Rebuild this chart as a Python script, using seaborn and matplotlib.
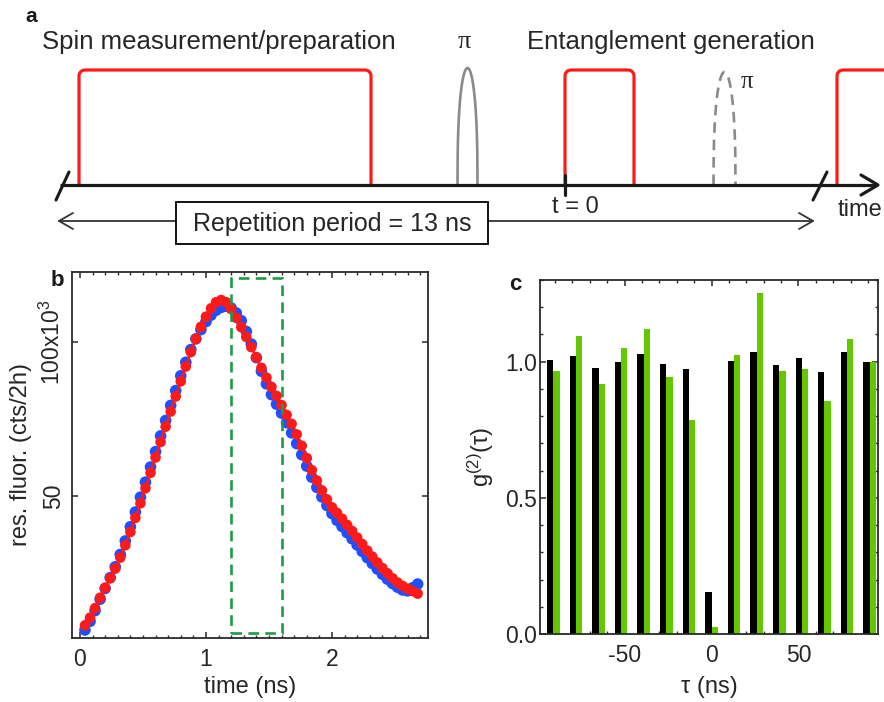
import numpy as np
import pandas as pd
import matplotlib
matplotlib.use("Agg")
import matplotlib.pyplot as plt
from matplotlib.patches import Rectangle
from matplotlib.ticker import MultipleLocator, FixedLocator
import seaborn as sns

sns.set_theme(style="ticks")
plt.rcParams["font.family"] = ["Liberation Sans", "DejaVu Sans"]
plt.rcParams["mathtext.fontset"] = "custom"
plt.rcParams["mathtext.rm"] = "Liberation Sans"
plt.rcParams["mathtext.it"] = "Liberation Sans:italic"
plt.rcParams["mathtext.default"] = "regular"
plt.rcParams["axes.unicode_minus"] = False

# ---------------- data ----------------
# b: resonance fluorescence, counts per 2 h (x10^3), sampled every 0.04 ns from 0.04 ns
t_first_ns = 0.04
t_step_ns = 0.04
fluor_blue = [6.5, 9.3, 12.8, 16.5, 20.0, 23.5, 27.0, 31.0, 35.4, 40.0,
              44.8, 49.6, 54.5, 59.4, 64.4, 69.5, 74.5, 79.4, 84.2, 89.0,
              93.4, 97.5, 101.0, 104.0, 106.6, 108.7, 110.3, 111.2, 111.6, 111.0,
              109.4, 106.9, 103.4, 99.3, 94.9, 90.5, 86.4, 82.9, 79.8, 76.9,
              73.8, 70.5, 67.0, 63.4, 59.7, 56.1, 52.8, 49.7, 46.9, 44.3,
              42.1, 40.1, 38.1, 36.1, 34.1, 32.0, 30.0, 28.1, 26.3, 24.6,
              23.0, 21.6, 20.4, 19.5, 19.2, 20.2, 21.4]
fluor_red = [8.0, 10.5, 13.6, 17.0, 20.2, 23.3, 26.4, 30.0, 34.0, 38.3,
             42.9, 47.6, 52.5, 57.5, 62.5, 67.5, 72.5, 77.4, 82.3, 87.2,
             92.0, 96.7, 101.0, 104.9, 108.2, 110.9, 112.9, 113.6, 112.9, 110.7,
             107.8, 104.8, 101.6, 98.3, 95.0, 91.6, 88.4, 85.4, 82.5, 79.5,
             76.3, 73.4, 70.0, 66.3, 62.3, 58.4, 55.0, 51.8, 48.9, 46.3,
             44.5, 42.6, 40.6, 38.6, 36.5, 34.4, 32.3, 30.3, 28.4, 26.6,
             24.9, 23.3, 21.9, 20.8, 19.9, 19.1, 18.3]
window_ns = [1.2, 1.6]          # detection window
window_counts = [5.5, 120.8]

# c: photon correlation g2(tau) at multiples of the 13 ns period
tau_ns = [-91, -78, -65, -52, -39, -26, -13, 0, 13, 26, 39, 52, 65, 78, 91]
g2_first = [1.006, 1.021, 0.978, 1.000, 1.029, 0.990, 0.973, 0.153,
            1.004, 1.036, 0.988, 1.015, 0.962, 1.034, 0.998]
g2_second = [0.966, 1.094, 0.917, 1.049, 1.120, 0.942, 0.785, 0.025,
             1.023, 1.252, 0.966, 0.975, 0.856, 1.083, 1.000]

time_ns = np.round(t_first_ns + t_step_ns * np.arange(len(fluor_red)), 3)

RED = "#ff1a1a"
BLUE = "#1f4fff"
GREEN_BAR = "#62c800"
GREEN_BOX = "#1e9a48"
GRAY = "#8a8a8a"
TXT = "#262626"

fig = plt.figure(figsize=(8.84, 7.02), dpi=100)


# ---------------- a: pulse sequence ----------------
def gate(ax, x0, x1, top, base, r=6, **kw):
    th = np.linspace(0, np.pi / 2, 12)
    xs = [x0]
    ys = [base]
    xs += list(x0 + r - r * np.cos(th))
    ys += list(top + r - r * np.sin(th))
    xs += list(x1 - r + r * np.sin(th))
    ys += list(top + r - r * np.cos(th))
    xs.append(x1)
    ys.append(base)
    ax.plot(xs, ys, **kw)


def pi_pulse(ax, c, w, top, base, **kw):
    u = np.linspace(-1, 1, 121)
    ax.plot(c + w * u, base - (base - top) * (1 - u ** 2) ** 0.4, **kw)


axa = fig.add_axes([0, 1 - 260 / 702, 1, 260 / 702])
axa.set_xlim(0, 884)
axa.set_ylim(260, 0)
axa.axis("off")
base = 185
for x0, x1 in [(79, 371), (565, 634), (837, 930)]:
    gate(axa, x0, x1, 70, base, color=RED, lw=2.3, solid_capstyle="butt")
pi_pulse(axa, 467.5, 10, 68, base, color=GRAY, lw=1.9)
pi_pulse(axa, 724.5, 11, 72, base, color=GRAY, lw=1.9, ls=(0, (4, 2.6)))

axa.plot([60, 877], [base, base], color="k", lw=2.3, solid_capstyle="butt")
axa.plot([861, 878, 861], [175, base, 195], color="k", lw=2.3)
axa.plot([56, 69], [200, 172], color="k", lw=2.2)
axa.plot([813, 827], [200, 172], color="k", lw=2.2)
axa.plot([565, 565], [175, 195], color="k", lw=2.3)

axa.plot([59, 813], [221, 221], color="#333333", lw=1.3)
axa.plot([73, 59, 73], [213, 221, 229], color="#333333", lw=1.3)
axa.plot([799, 813, 799], [213, 221, 229], color="#333333", lw=1.3)
axa.add_patch(Rectangle((176, 202), 312, 42, fc="white", ec="black", lw=1.3, zorder=3))
axa.text(332, 224, "Repetition period = 13 ns", ha="center", va="center",
         fontsize=18, color=TXT, zorder=4)

axa.text(42, 49, "Spin measurement/preparation", ha="left", va="baseline",
         fontsize=18.5, color=TXT)
axa.text(527, 49, "Entanglement generation", ha="left", va="baseline",
         fontsize=18.5, color=TXT)
axa.text(464, 48, "π", ha="center", va="baseline", fontsize=19, color=TXT,
         family=["Liberation Serif", "DejaVu Serif"])
axa.text(741, 88, "π", ha="left", va="baseline", fontsize=18, color=TXT,
         family=["Liberation Serif", "DejaVu Serif"])
axa.text(575, 207, "t = 0", ha="center", va="center", fontsize=17, color=TXT)
axa.text(838, 210, "time", ha="left", va="center", fontsize=17, color=TXT)
axa.text(31, 16, "a", ha="center", va="center", fontsize=15, fontweight="bold", color="k")


def style_axes(ax):
    for s in ax.spines.values():
        s.set_color("#2a2a2a")
        s.set_linewidth(1.3)
    ax.tick_params(which="both", direction="in", top=True, right=True,
                   color="#2a2a2a", labelcolor=TXT, labelsize=16.5)
    ax.tick_params(which="major", length=4.5, width=1.1)
    ax.tick_params(which="minor", length=2.5, width=1.0)


# ---------------- b: fluorescence vs time ----------------
axb = fig.add_axes([72 / 884, 64 / 702, 356 / 884, 366 / 702])
sns.scatterplot(x=time_ns, y=fluor_blue, color=BLUE, s=70, edgecolor="none",
                linewidth=0, ax=axb, zorder=2)
sns.lineplot(x=time_ns, y=fluor_red, color=RED, lw=1.8, ax=axb, zorder=3)
sns.scatterplot(x=time_ns, y=fluor_red, color=RED, s=58, edgecolor="none",
                linewidth=0, ax=axb, zorder=4)
axb.add_patch(Rectangle((window_ns[0], window_counts[0]), window_ns[1] - window_ns[0],
                        window_counts[1] - window_counts[0], fill=False, ec=GREEN_BOX,
                        lw=1.9, ls=(0, (4, 2.4)), zorder=5))
axb.set_xlim(-0.063, 2.762)
axb.set_ylim(3.9, 122.7)
axb.xaxis.set_major_locator(FixedLocator([0, 1, 2]))
axb.xaxis.set_minor_locator(MultipleLocator(0.1))
axb.yaxis.set_major_locator(FixedLocator([50, 100]))
axb.set_yticklabels(["50", "100x10$^{3}$"])
style_axes(axb)
axb.tick_params(axis="y", labelrotation=90, pad=5)
axb.tick_params(axis="x", pad=7)
for lbl in axb.get_yticklabels():
    lbl.set_va("center")
axb.set_xlabel("time (ns)", fontsize=17, color=TXT)
axb.set_ylabel("res. fluor. (cts/2h)", fontsize=17, color=TXT)
axb.xaxis.set_label_coords(0.5, -0.105)
axb.yaxis.set_label_coords(-0.112, 0.5)
fig.text(57 / 884, 1 - 281 / 702, "b", ha="center", va="center", fontsize=16,
         fontweight="bold", color="#1a1a1a")

# ---------------- c: g2 histogram ----------------
axc = fig.add_axes([540 / 884, 68 / 702, 338 / 884, 354 / 702])
g2_df = pd.DataFrame({
    "tau": tau_ns * 2,
    "g2": g2_first + g2_second,
    "set": ["I"] * len(tau_ns) + ["II"] * len(tau_ns),
})
sns.barplot(data=g2_df, x="tau", y="g2", hue="set", palette=["black", GREEN_BAR],
            native_scale=True, width=0.56, gap=0, saturation=1, linewidth=0,
            legend=False, ax=axc)
axc.set_xlim(-98.7, 95.8)
axc.set_ylim(0, 1.30)
axc.xaxis.set_major_locator(FixedLocator([-50, 0, 50]))
axc.xaxis.set_minor_locator(MultipleLocator(10))
axc.yaxis.set_major_locator(FixedLocator([0, 0.5, 1.0]))
axc.yaxis.set_minor_locator(MultipleLocator(0.1))
axc.set_yticklabels(["0.0", "0.5", "1.0"])
style_axes(axc)
axc.tick_params(axis="y", pad=2)
axc.tick_params(axis="x", pad=7)
axc.set_xlabel("τ (ns)", fontsize=17, color=TXT)
axc.set_ylabel("g$^{(2)}$(τ)", fontsize=17, color=TXT)
axc.xaxis.set_label_coords(0.5, -0.118)
axc.yaxis.set_label_coords(-0.13, 0.5)
fig.text(515 / 884, 1 - 284 / 702, "c", ha="center", va="center", fontsize=16,
         fontweight="bold", color="#1a1a1a")

fig.savefig("out.png", dpi=100, facecolor="white")
